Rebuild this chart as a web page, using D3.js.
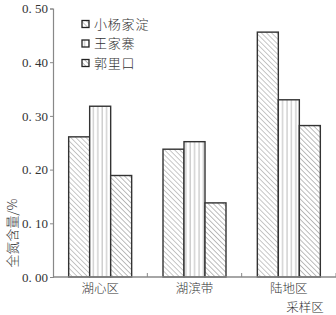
<!DOCTYPE html>
<html>
<head>
<meta charset="utf-8">
<script src="https://cdn.jsdelivr.net/npm/d3@7"></script>
<style>
body{margin:0;background:#fff}
text{fill:#333}
</style>
</head>
<body>
<svg id="graph"></svg>
<script>
var regions=["湖心区","湖滨带","陆地区"]
var sites=["小杨家淀","王家寨","郭里口"]
var xiaoyang=[0.261,0.238,0.456]
var wangjia=[0.318,0.252,0.330]
var guoli=[0.189,0.138,0.282]
var yticks=[0,0.1,0.2,0.3,0.4,0.5]

var screen={width:336,height:315}
var svg=d3.select("#graph")
.attr("width",screen.width)
.attr("height",screen.height)

var defs=svg.append("defs")
var pats=["diag","vert","diag2"]
function diag(id,gap,col){
  var p=defs.append("pattern").attr("id",id).attr("patternUnits","userSpaceOnUse")
  .attr("width",gap).attr("height",gap).attr("patternTransform","rotate(45)")
  p.append("rect").attr("width",gap).attr("height",gap).attr("fill","#fff")
  p.append("line").attr("x1",0).attr("y1",0).attr("x2",gap).attr("y2",0)
  .attr("stroke",col).attr("stroke-width",1.4)
}
diag("diag",3.6,"#b0b0b0")
diag("diag2",3.6,"#a0a0a0")
var pv=defs.append("pattern").attr("id","vert").attr("patternUnits","userSpaceOnUse")
.attr("width",4.4).attr("height",4)
pv.append("rect").attr("width",4.4).attr("height",4).attr("fill","#fff")
pv.append("line").attr("x1",1).attr("y1",0).attr("x2",1).attr("y2",4)
.attr("stroke","#bbb").attr("stroke-width",1)

var plot={left:53,right:336,top:8.5,bottom:277}
var x0=d3.scaleBand().domain(regions).range([plot.left,plot.right])
var x1=d3.scaleBand().domain(sites).range([0,63])
var y=d3.scaleLinear().domain([0,0.5]).range([plot.bottom,plot.top])

var series=[xiaoyang,wangjia,guoli]

// bars
series.forEach(function(vals,si){
  svg.append("g").selectAll("rect").data(vals).enter().append("rect")
  .attr("x",function(d,i){return x0(regions[i])+x0.bandwidth()/2-31.5+x1(sites[si])})
  .attr("y",function(d){return y(d)})
  .attr("width",x1.bandwidth())
  .attr("height",function(d){return plot.bottom-y(d)})
  .attr("fill","url(#"+pats[si]+")")
  .attr("stroke","#333").attr("stroke-width",1.4)
})

// y axis
var yaxis=svg.append("g").attr("transform","translate("+plot.left+",0)")
.call(d3.axisLeft(y).tickValues(yticks).tickSize(3).tickFormat(function(d){return d3.format(".2f")(d).replace(".",". ")}))
yaxis.select(".domain").attr("stroke","#888").attr("stroke-width",1.2)
yaxis.selectAll(".tick line").attr("stroke","#888")
yaxis.selectAll(".tick text").attr("font-family","'Liberation Serif',serif").attr("font-size",13).attr("fill","#333").attr("x",-5)

// x axis
var xaxis=svg.append("g").attr("transform","translate(0,"+plot.bottom+")")
xaxis.append("line").attr("x1",plot.left).attr("x2",plot.right).attr("stroke","#888").attr("stroke-width",1.4)
xaxis.selectAll(".tk").data(regions).enter().append("line")
.attr("x1",function(d){return x0(d)+x0.bandwidth()}).attr("x2",function(d){return x0(d)+x0.bandwidth()})
.attr("y1",0).attr("y2",-4).attr("stroke","#888")
xaxis.selectAll(".lab").data(regions).enter().append("text")
.attr("x",function(d){return x0(d)+x0.bandwidth()/2}).attr("y",16)
.attr("text-anchor","middle").attr("font-family","'Noto Sans CJK SC'").attr("font-size",12.5)
.attr("font-weight",300)
.text(function(d){return d})

svg.append("text").attr("x",305).attr("y",312).attr("text-anchor","middle")
.attr("font-family","'Noto Sans CJK SC'").attr("font-size",12.5).attr("font-weight",300).text("采样区")

svg.append("text").attr("transform","translate(17,233) rotate(-90)").attr("text-anchor","middle")
.attr("font-family","'Noto Sans CJK SC'").attr("font-size",13).attr("font-weight",300).text("全氮含量/%")

// legend
var lg=svg.append("g")
sites.forEach(function(s,i){
  var yy=20.5+i*19.5
  lg.append("rect").attr("x",82).attr("y",yy).attr("width",7).attr("height",7)
  .attr("fill","url(#"+pats[i]+")").attr("stroke","#222").attr("stroke-width",1.3)
  lg.append("text").attr("x",94).attr("y",yy+8).attr("font-family","'Noto Sans CJK SC'")
  .attr("font-size",13).attr("font-weight",300).attr("letter-spacing",0.8).text(s)
})
</script>
</body>
</html>
